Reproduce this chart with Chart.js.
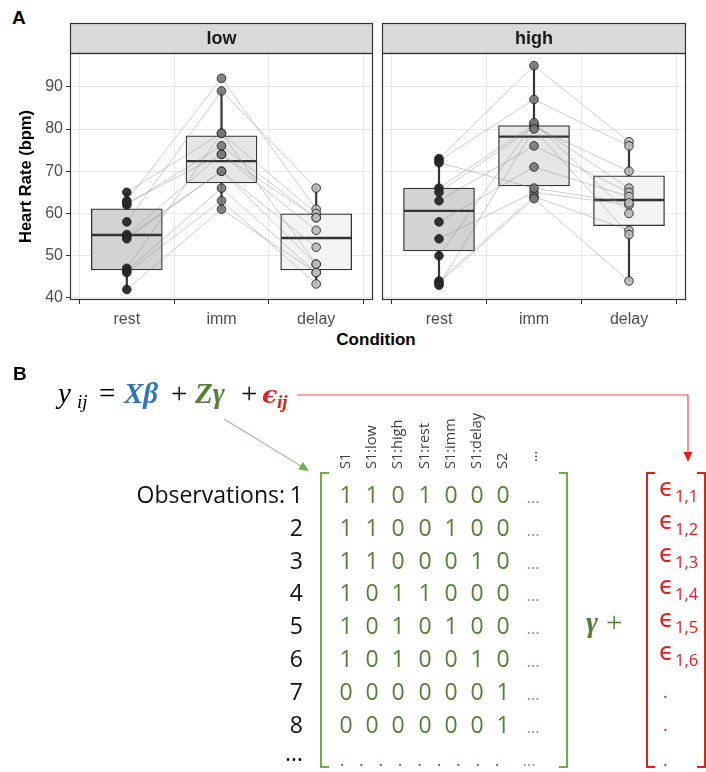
<!DOCTYPE html>
<html><head><meta charset="utf-8">
<script src="https://cdn.jsdelivr.net/npm/chart.js@4.4.0/dist/chart.umd.min.js"></script>
<style>
body{margin:0;width:706px;height:772px;position:relative;background:#fff;overflow:hidden;font-family:'Liberation Sans',Arial,sans-serif}
canvas{position:absolute;top:0}
#c1{left:0}
#c2{left:378px}
.lbl{position:absolute;font-weight:bold;color:#000}
svg{position:absolute;left:0;top:0}
</style></head><body>
<div class="lbl" style="left:12px;top:7px;font-size:19px">A</div>
<canvas id="c1" width="378" height="330"></canvas>
<canvas id="c2" width="328" height="330"></canvas>
<div class="lbl" style="left:0;width:752px;top:330px;text-align:center;font-size:17px">Condition</div>
<svg id="fig" width="706" height="772"></svg>
<script>
// panel A data
const conditions = ['rest', 'imm', 'delay'];
const yTickValues = [40, 50, 60, 70, 80, 90];

// one entry per subject, values in bpm
const lowRest  = [63, 58, 65, 62, 55, 54.5, 47, 46.5, 46, 42, 54, 62.5];
const lowImm   = [92, 89, 79, 76, 74, 70, 79, 66, 63, 61, 70, 74];
const lowDelay = [61, 66, 60, 59, 56, 52, 48, 46, 43.3, 46, 48, 59];
const highRest  = [73, 72.5, 66, 65, 63, 58, 54, 50, 44, 43.5, 43, 72];
const highImm   = [95, 87, 81, 80.5, 76, 71, 65, 81.5, 64, 63.5, 80, 66];
const highDelay = [77, 76, 66, 70, 65, 64, 62, 60, 56, 44, 55, 62.5];

// box stats per condition (rest, imm, delay)
const lowQ1 = [46.6, 67.2, 46.6], lowMed = [54.9, 72.4, 54.2], lowQ3 = [61.1, 78.4, 59.9];
const lowLo = [42, 61, 43.3], lowHi = [65, 89, 66.3];
const highQ1 = [51.1, 66.5, 57.1], highMed = [60.6, 78.2, 63.2], highQ3 = [66, 80.8, 68.9];
const highLo = [43.3, 63.2, 44], highHi = [73.4, 95.2, 77.2];

// panel B data
const colLabels = ['S1', 'S1:low', 'S1:high', 'S1:rest', 'S1:imm', 'S1:delay', 'S2', '…'];
const obsLabels = ['1', '2', '3', '4', '5', '6', '7', '8', '…'];
const zRows = [
  [1,1,0,1,0,0,0], [1,1,0,0,1,0,0], [1,1,0,0,0,1,0], [1,0,1,1,0,0,0],
  [1,0,1,0,1,0,0], [1,0,1,0,0,1,0], [0,0,0,0,0,0,1], [0,0,0,0,0,0,1]
];
const epsLabels = ['1,1', '1,2', '1,3', '1,4', '1,5', '1,6'];

const boxFill = ['#d3d3d3', '#e6e6e6', '#f3f3f3'];
const pointFill = ['rgba(40,40,40,0.95)', 'rgba(120,120,120,0.9)', 'rgba(185,185,185,0.9)'];

const panelFrame = {
  id: 'panelFrame',
  afterDraw(chart, args, opts) {
    const { ctx, chartArea: a } = chart;
    ctx.save();
    ctx.fillStyle = '#d9d9d9';
    ctx.fillRect(a.left, a.top - 30, a.right - a.left, 30);
    ctx.strokeStyle = '#333'; ctx.lineWidth = 1.2;
    ctx.strokeRect(a.left + 0.5, a.top - 30 + 0.5, a.right - a.left - 1, 30);
    ctx.strokeRect(a.left + 0.5, a.top + 0.5, a.right - a.left - 1, a.bottom - a.top - 1);
    ctx.fillStyle = '#1a1a1a';
    ctx.font = 'bold 18px "Liberation Sans"';
    ctx.textAlign = 'center'; ctx.textBaseline = 'middle';
    ctx.fillText(opts.text, (a.left + a.right) / 2, a.top - 14);
    ctx.restore();
  }
};

function panelDatasets(q1, med, q3, lo, hi, rest, imm, delay) {
  const xs = conditions.map((c, i) => i + 1);
  const ds = [];
  ds.push({ type: 'bar', data: xs.map((x, i) => ({ x, y: [lo[i], hi[i]] })),
    backgroundColor: '#333', barThickness: 1.5, grouped: false, order: 5 });
  ds.push({ type: 'bar', data: xs.map((x, i) => ({ x, y: [q1[i], q3[i]] })),
    backgroundColor: boxFill, borderColor: '#333', borderWidth: 1.3, borderSkipped: false,
    barThickness: 71, grouped: false, order: 4 });
  ds.push({ type: 'scatter', data: xs.map((x, i) => ({ x, y: med[i] })),
    pointStyle: 'line', pointRadius: 35, pointBorderColor: '#333', pointBorderWidth: 2.4, order: 3 });
  rest.forEach((r, k) => ds.push({ type: 'line',
    data: [{ x: 1, y: r }, { x: 2, y: imm[k] }, { x: 3, y: delay[k] }],
    borderColor: 'rgba(130,130,130,0.4)', borderWidth: 1, pointRadius: 0, order: 2 }));
  [rest, imm, delay].forEach((arr, i) => ds.push({ type: 'scatter',
    data: arr.map(v => ({ x: i + 1, y: v })),
    pointBackgroundColor: pointFill[i], pointBorderColor: 'rgba(30,30,30,0.85)',
    pointBorderWidth: 1, pointRadius: 4.3, order: 1 }));
  return ds;
}

function makePanel(id, title, datasets, showY, padRight) {
  return new Chart(document.getElementById(id), {
    type: 'bar',
    data: { datasets },
    options: {
      responsive: false, animation: false,
      layout: { autoPadding: false, padding: { top: 53, right: padRight, left: 0, bottom: 0 } },
      plugins: { legend: { display: false }, tooltip: { enabled: false }, panelFrame: { text: title } },
      scales: {
        x: {
          type: 'linear', min: 0.4, max: 3.6, offset: false,
          afterBuildTicks: s => { s.ticks = conditions.map((c, i) => ({ value: i + 1 })); },
          afterFit: s => { s.height = 30; },
          ticks: { callback: v => conditions[v - 1], color: '#4d4d4d', autoSkip: false, maxRotation: 0,
            font: { size: 16, family: 'Liberation Sans' }, padding: 6 },
          grid: { color: '#e8e8e8', tickColor: '#333', tickLength: 4 },
          border: { display: false }
        },
        y: {
          min: 39.5, max: 98,
          afterBuildTicks: s => { s.ticks = yTickValues.map(v => ({ value: v })); },
          afterFit: s => { s.width = showY ? 70 : 4; },
          ticks: { display: showY, color: '#4d4d4d', font: { size: 16, family: 'Liberation Sans' }, padding: 3 },
          grid: { color: '#e8e8e8', tickColor: '#333', tickLength: 4, drawTicks: showY },
          border: { display: false },
          title: { display: showY, text: 'Heart Rate (bpm)', color: '#000',
            font: { size: 16.5, weight: 'bold', family: 'Liberation Sans' }, padding: { top: 17, bottom: 0 } }
        }
      }
    },
    plugins: [panelFrame]
  });
}

makePanel('c1', 'low', panelDatasets(lowQ1, lowMed, lowQ3, lowLo, lowHi, lowRest, lowImm, lowDelay), true, 5);
makePanel('c2', 'high', panelDatasets(highQ1, highMed, highQ3, highLo, highHi, highRest, highImm, highDelay), false, 20);

// panel B: model equation and design matrix
const svg = document.getElementById('fig');
function el(tag, attrs, text) {
  const e = document.createElementNS('http://www.w3.org/2000/svg', tag);
  for (const k in attrs) e.setAttribute(k, attrs[k]);
  if (text !== undefined) e.textContent = text;
  svg.appendChild(e);
  return e;
}
const GREEN = '#548235', LGREEN = '#70ad47', RED = '#e0201f', BLUE = '#2e75b6';
const SERIF = "'Liberation Serif','DejaVu Serif',serif";
const SANS = "'Open Sans','Noto Sans',sans-serif";

el('text', { x: 13, y: 380, 'font-family': 'Liberation Sans', 'font-size': 19, 'font-weight': 'bold' }, 'B');

// equation
const eqY = 403;
const eqParts = [
  { x: 58, t: 'y', c: '#000', it: 1 }, { x: 77, t: 'ij', c: '#000', it: 1, sub: 1 },
  { x: 99, t: '=', c: '#000' }, { x: 124, t: 'Xβ', c: BLUE, it: 1, b: 1 },
  { x: 171, t: '+', c: '#000' }, { x: 195, t: 'Zγ', c: GREEN, it: 1, b: 1 },
  { x: 241, t: '+', c: '#000' }, { x: 277, t: 'ij', c: RED, it: 1, b: 1, sub: 1 }
];
eqParts.forEach(p => el('text', { x: p.x, y: eqY + (p.sub ? 5 : 0), fill: p.c, 'font-family': SERIF,
  'font-size': p.sub ? 19 : 29, 'font-style': p.it ? 'italic' : 'normal', 'font-weight': p.b ? 'bold' : 'normal' }, p.t));
el('text', { x: 262, y: eqY, fill: RED, 'font-family': "'DejaVu Serif'", 'font-size': 25,
  'font-weight': 'bold', 'font-style': 'italic' }, 'ϵ');

// red arrow from epsilon to error vector
el('polyline', { points: '297,395 688,395 688,455', fill: 'none', stroke: '#e34a4c', 'stroke-width': 1.2 });
el('polygon', { points: '683.5,452 692.5,452 688,462', fill: RED });

// green arrow from Z to matrix
const ax0 = 224, ay0 = 419, ax1 = 309, ay1 = 471;
const dx = ax1 - ax0, dy = ay1 - ay0, L = Math.hypot(dx, dy), ux = dx / L, uy = dy / L;
el('line', { x1: ax0, y1: ay0, x2: ax1 - ux * 8, y2: ay1 - uy * 8, stroke: '#a3bf90', 'stroke-width': 1.2 });
el('polygon', { points: `${ax1},${ay1} ${ax1 - ux * 10 - uy * 4.5},${ay1 - uy * 10 + ux * 4.5} ${ax1 - ux * 10 + uy * 4.5},${ay1 - uy * 10 - ux * 4.5}`, fill: LGREEN });

// matrix
const colX = [346, 372, 398, 425, 451, 477, 503, 533];
const rowY = obsLabels.map((o, i) => 495 + 32.8 * i);
colLabels.forEach((c, j) => {
  const x = colX[j] + 4, y = j === colLabels.length - 1 ? 462 : 469;
  el('text', { x, y, transform: `rotate(-90 ${x} ${y})`, fill: '#404040', 'font-family': SANS, 'font-size': 14.5 }, c);
});
el('text', { x: 285, y: rowY[0] + 8, 'text-anchor': 'end', 'font-family': SANS, 'font-size': 23, fill: '#111' }, 'Observations:');
obsLabels.forEach((o, i) => el('text', { x: 303, y: rowY[i] + (i === obsLabels.length - 1 ? 4 : 8), 'text-anchor': 'end',
  'font-family': SANS, 'font-size': 23, fill: '#111' }, o));
zRows.forEach((row, i) => {
  row.forEach((v, j) => el('text', { x: colX[j], y: rowY[i] + 8, 'text-anchor': 'middle', 'font-family': SANS,
    'font-size': 23, fill: GREEN }, String(v)));
  el('text', { x: colX[7], y: rowY[i] + 8, 'text-anchor': 'middle', 'font-family': SANS, 'font-size': 17, fill: '#7e9c6c' }, '…');
});
// bottom row of dots
for (let k = 0; k < 9; k++) el('text', { x: 342 + 19.4 * k, y: 766, 'text-anchor': 'middle', 'font-family': SANS, 'font-size': 18, fill: GREEN }, '.');
el('text', { x: colX[7] - 4, y: 766, 'text-anchor': 'middle', 'font-family': SANS, 'font-size': 17, fill: '#7e9c6c' }, '…');

// brackets
function bracket(x, dir, color) {
  el('polyline', { points: `${x + dir * 8},473 ${x},473 ${x},767 ${x + dir * 8},767`, fill: 'none', stroke: color, 'stroke-width': 2 });
}
bracket(321, 1, LGREEN);
bracket(567, -1, LGREEN);
bracket(647, 1, RED);
bracket(705, -1, RED);

el('text', { x: 586, y: 632, fill: GREEN, 'font-family': SERIF, 'font-size': 29, 'font-style': 'italic', 'font-weight': 'bold' }, 'γ');
el('text', { x: 606, y: 632, fill: GREEN, 'font-family': SERIF, 'font-size': 29 }, '+');

// error vector
epsLabels.forEach((e, i) => {
  el('text', { x: 659, y: rowY[i] + 1, fill: RED, 'font-family': "'DejaVu Sans'", 'font-size': 24 }, 'ϵ');
  el('text', { x: 675, y: rowY[i] + 7, fill: RED, 'font-family': SANS, 'font-size': 16.5 }, e);
});
for (let i = epsLabels.length; i < obsLabels.length; i++) {
  el('text', { x: 663, y: i === obsLabels.length - 1 ? 766 : rowY[i] + 6, fill: RED, 'font-family': SANS, 'font-size': 18 }, '.');
}
</script>
</body></html>
